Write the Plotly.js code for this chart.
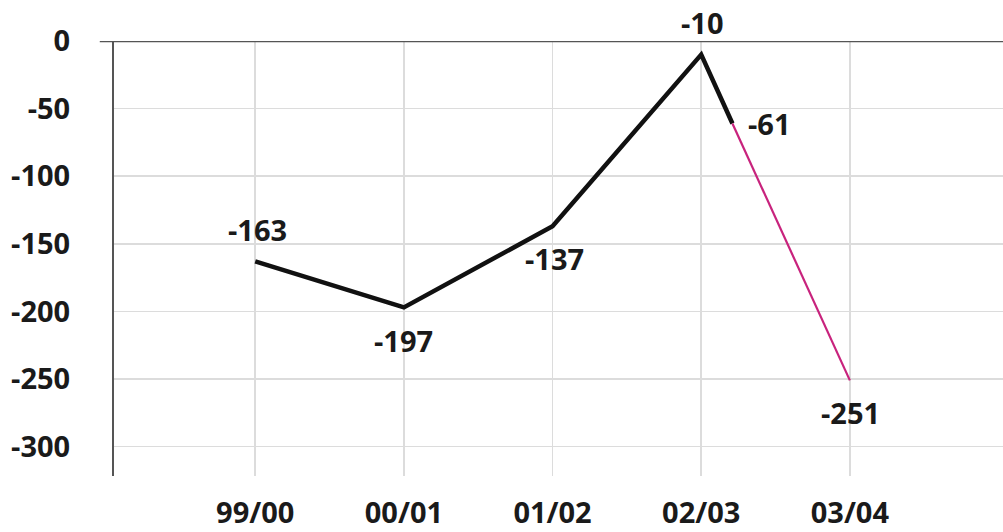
<!DOCTYPE html>
<html>
<head>
<meta charset="utf-8">
<script src="https://cdn.plot.ly/plotly-3.0.1.min.js"></script>
<style>html,body{margin:0;padding:0;background:#fff;}#chart{width:1003px;height:532px;}</style>
</head>
<body>
<div id="chart"></div>
<script>
// Data
const seasons = ['99/00', '00/01', '01/02', '02/03', '03/04'];
const actualX = [0, 1, 2, 3, 3.21];          // last point: part-way through 02/03 -> 03/04
const actualY = [-163, -197, -137, -10, -61];
const forecastX = [3.21, 4];
const forecastY = [-61, -251];
const yTicks = [0, -50, -100, -150, -200, -250, -300];

const FONT = '"Open Sans", "DejaVu Sans", sans-serif';
const LABEL_SIZE = 29;
const WEIGHT = 700;

const traces = [
  {
    x: actualX, y: actualY, type: 'scatter', mode: 'lines',
    line: {color: '#111111', width: 4.5}, hoverinfo: 'skip'
  },
  {
    x: forecastX, y: forecastY, type: 'scatter', mode: 'lines',
    line: {color: '#c8237d', width: 2.2}, hoverinfo: 'skip'
  }
];

// label placements: [dx, dy, xanchor]
const place = [
  [2, 32, 'center'],
  [0, -33, 'center'],
  [2, -32, 'center'],
  [1, 32, 'center'],
  [14, 0, 'left']
];
const annotations = actualX.map((x, i) => ({
  x: x, y: actualY[i], xref: 'x', yref: 'y', text: String(actualY[i]),
  showarrow: false, xanchor: place[i][2], yanchor: 'middle',
  xshift: place[i][0], yshift: place[i][1],
  font: {family: FONT, size: LABEL_SIZE, color: '#1a1a1a', weight: WEIGHT}
}));
annotations.push({
  x: forecastX[1], y: forecastY[1], xref: 'x', yref: 'y', text: String(forecastY[1]),
  showarrow: false, xanchor: 'center', yanchor: 'middle', xshift: 1, yshift: -32,
  font: {family: FONT, size: LABEL_SIZE, color: '#1a1a1a', weight: WEIGHT}
});

const layout = {
  width: 1003, height: 532,
  margin: {l: 114, r: 0, t: 41, b: 56, pad: 0},
  paper_bgcolor: '#ffffff', plot_bgcolor: '#ffffff',
  showlegend: false,
  font: {family: FONT, color: '#1a1a1a'},
  xaxis: {
    range: [-0.95, 5.03],
    tickvals: [0, 1, 2, 3, 4], ticktext: seasons,
    showgrid: true, gridcolor: '#dcdcdc', gridwidth: 1.5,
    zeroline: false, showline: false, ticks: '',
    ticklabelstandoff: 17,
    tickfont: {family: FONT, size: LABEL_SIZE, color: '#1a1a1a', weight: WEIGHT},
    fixedrange: true
  },
  yaxis: {
    range: [-321.7, 0],
    tickvals: yTicks, ticktext: yTicks.map(String),
    showgrid: true, gridcolor: '#dcdcdc', gridwidth: 1.5,
    zeroline: false,
    showline: true, linecolor: '#555555', linewidth: 2,
    ticks: '', ticklabelstandoff: 36,
    tickfont: {family: FONT, size: LABEL_SIZE, color: '#1a1a1a', weight: WEIGHT},
    fixedrange: true
  },
  shapes: [
    {type: 'line', xref: 'paper', yref: 'y', x0: -0.016, x1: 1, y0: 0, y1: 0,
     line: {color: '#555555', width: 2.5}, layer: 'above'}
  ],
  annotations: annotations
};

Plotly.newPlot('chart', traces, layout, {displayModeBar: false, staticPlot: true});
</script>
</body>
</html>
